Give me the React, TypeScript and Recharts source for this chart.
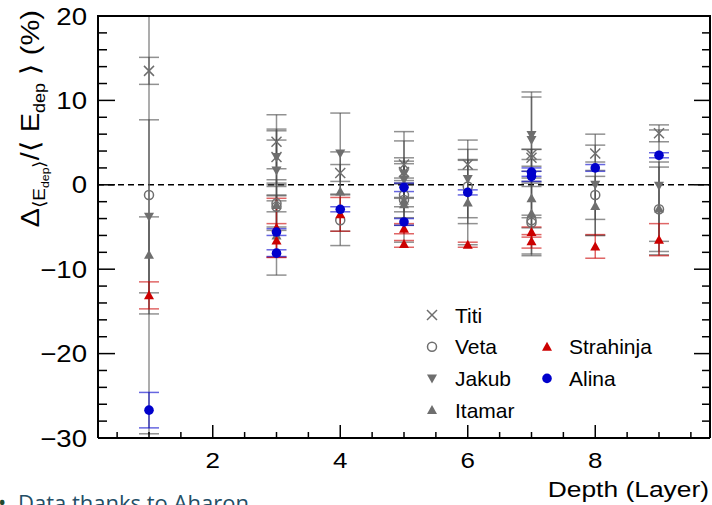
import React from 'react';
import { ScatterChart, Scatter, XAxis, YAxis, ErrorBar, ReferenceLine, Legend } from 'recharts';

// ---- data ----
const depth = [1, 3, 3, 4, 5, 5, 6, 7, 7, 8, 9];

const titi = [13.5, 5.1, 3.3, 1.4, 2.4, 1.5, 2.4, 3.6, 3.2, 3.7, 6.1];
const titiErr = [1.6, 3.2, 3.1, 1.0, 3.9, 1.0, 0.6, 0.6, 1.0, 1.0, 1.0];

const veta = [-1.2, -2.2, -2.6, -4.2, -1.2, -1.8, -0.2, -4.2, -4.5, -1.2, -2.9];
const vetaErr = [28.3, 1.0, 2.4, 3.0, 2.0, 5.0, 4.4, 4.0, 0.6, 2.9, 5.0];

const jakub = [-3.8, 3.3, 1.7, 3.7, 1.3, 0.6, 0.7, 5.9, 5.3, 0.0, -0.1];
const jakubErr = [11.5, 3.3, 3.6, 4.8, 3.9, 2.2, 4.6, 5.1, 5.1, 6.0, 6.6];

const itamar = [-8.3, -2.4, -6.0, -0.8, -1.9, -2.3, -2.1, -1.6, -3.4, -2.5, -2.8];
const itamarErr = [4.5, 3.0, 4.7, 4.7, 2.0, 2.5, 5.0, 2.0, 5.0, 3.5, 5.5];

const strahinja = [-13.1, -5.1, -6.6, -3.5, -5.2, -7.0, -7.1, -5.6, -6.7, -7.3, -6.5];
const strahinjaErr = [1.6, 3.5, 2.0, 2.0, 0.6, 0.4, 0.3, 0.6, 0.8, 1.4, 1.9];

const alina = [-26.7, -5.6, -8.1, -2.9, -0.3, -4.4, -0.9, 1.5, 1.0, 2.0, 3.5];
const alinaErr = [2.1, 0.4, 0.4, 0.3, 0.5, 0.4, 0.3, 0.5, 0.6, 0.4, 0.3];

const xTicks = [0.5, 1, 1.5, 2, 2.5, 3, 3.5, 4, 4.5, 5, 5.5, 6, 6.5, 7, 7.5, 8, 8.5, 9, 9.5];
const xMajor = [2, 4, 6, 8];
const xLabels = ['2', '4', '6', '8'];

const yTicks = [-30, -28, -26, -24, -22, -20, -18, -16, -14, -12, -10, -8, -6, -4, -2, 0, 2, 4, 6, 8, 10, 12, 14, 16, 18, 20];
const yMajor = [-30, -20, -10, 0, 10, 20];
const yLabels = ['\u221230', '\u221220', '\u221210', '0', '10', '20'];

const build = (vals: number[], errs: number[]) => depth.map((x, i) => ({ x, y: vals[i], err: errs[i] }));

const GREY = '#6e6e6e';
const GREY_LINE = '#484848';
const RED = '#cc0000';
const BLUE = '#0000cc';
const FONT = "'Liberation Sans', Arial, Helvetica, sans-serif";

// ---- marker shapes ----
const drawMarker = (kind: string, cx: number, cy: number, color: string) => {
  switch (kind) {
    case 'cross':
      return (
        <g>
          <line x1={cx - 5} y1={cy - 5} x2={cx + 5} y2={cy + 5} stroke={color} strokeWidth={1.5} />
          <line x1={cx - 5} y1={cy + 5} x2={cx + 5} y2={cy - 5} stroke={color} strokeWidth={1.5} />
        </g>
      );
    case 'open':
      return <circle cx={cx} cy={cy} r={4.5} fill="none" stroke={color} strokeWidth={1.5} />;
    case 'down':
      return <polygon points={`${cx - 5},${cy - 4} ${cx + 5},${cy - 4} ${cx},${cy + 5}`} fill={color} />;
    case 'up':
      return <polygon points={`${cx - 5},${cy + 4} ${cx + 5},${cy + 4} ${cx},${cy - 5}`} fill={color} />;
    default:
      return <circle cx={cx} cy={cy} r={4.8} fill={color} />;
  }
};

const series = [
  { name: 'Titi', data: build(titi, titiErr), kind: 'cross', color: GREY, line: GREY_LINE },
  { name: 'Veta', data: build(veta, vetaErr), kind: 'open', color: GREY, line: GREY_LINE },
  { name: 'Jakub', data: build(jakub, jakubErr), kind: 'down', color: GREY, line: GREY_LINE },
  { name: 'Itamar', data: build(itamar, itamarErr), kind: 'up', color: GREY, line: GREY_LINE },
  { name: 'Strahinja', data: build(strahinja, strahinjaErr), kind: 'up', color: RED, line: RED },
  { name: 'Alina', data: build(alina, alinaErr), kind: 'dot', color: BLUE, line: BLUE },
];

// ---- ticks ----
const XTick = (props: any) => {
  const { x, y, payload } = props;
  const v = payload.value;
  const idx = xMajor.indexOf(v);
  const major = idx >= 0;
  return (
    <g>
      <line x1={x} x2={x} y1={y} y2={y - (major ? 13 : 6)} stroke="#000" strokeWidth={1.5} />
      {major && (
        <text
          transform={`translate(${x}, ${y + 30}) scale(1.18, 1)`}
          textAnchor="middle"
          fontFamily={FONT}
          fontSize={22}
          fill="#000"
        >
          {xLabels[idx]}
        </text>
      )}
    </g>
  );
};

const YTickLeft = (props: any) => {
  const { x, y, payload } = props;
  const v = payload.value;
  const idx = yMajor.indexOf(v);
  const major = idx >= 0;
  return (
    <g>
      <line x1={x} x2={x + (major ? 17 : 9)} y1={y} y2={y} stroke="#000" strokeWidth={1.5} />
      {major && (
        <text
          transform={`translate(${x - 11}, ${y + 8.5}) scale(1.15, 1)`}
          textAnchor="end"
          fontFamily={FONT}
          fontSize={24}
          fill="#000"
        >
          {yLabels[idx]}
        </text>
      )}
    </g>
  );
};

const YTickRight = (props: any) => {
  const { x, y, payload } = props;
  const major = yMajor.indexOf(payload.value) >= 0;
  return <line x1={x} x2={x - (major ? 16 : 8)} y1={y} y2={y} stroke="#000" strokeWidth={1.5} />;
};

// ---- legend ----
const legendRows = [
  { name: 'Titi', kind: 'cross', color: GREY, col: 0, row: 0 },
  { name: 'Veta', kind: 'open', color: GREY, col: 0, row: 1 },
  { name: 'Jakub', kind: 'down', color: GREY, col: 0, row: 2 },
  { name: 'Itamar', kind: 'up', color: GREY, col: 0, row: 3 },
  { name: 'Strahinja', kind: 'up', color: RED, col: 1, row: 1 },
  { name: 'Alina', kind: 'dot', color: BLUE, col: 1, row: 2 },
];

const LegendContent = () => (
  <svg width={280} height={130} style={{ overflow: 'visible', display: 'block' }}>
    {legendRows.map((r) => {
      const mx = r.col === 0 ? 12 : 127;
      const tx = r.col === 0 ? 35 : 149;
      const cy = 17 + r.row * 31.7;
      return (
        <g key={r.name}>
          {drawMarker(r.kind, mx, cy, r.color)}
          <text x={tx} y={cy + 7.5} fontFamily={FONT} fontSize={21} fill="#000">
            {r.name}
          </text>
        </g>
      );
    })}
  </svg>
);

export default function App() {
  return (
    <div style={{ position: 'absolute', left: 0, top: 0, width: 712, height: 505, background: '#fff', overflow: 'hidden' }}>
      <ScatterChart width={712} height={505} margin={{ top: 16, right: 0, left: 8, bottom: 37 }}>
        <XAxis
          dataKey="x"
          type="number"
          domain={[0.2, 9.8]}
          ticks={xTicks}
          interval={0}
          tickSize={0}
          tickMargin={0}
          tickLine={false}
          tick={<XTick />}
          axisLine={{ stroke: '#000', strokeWidth: 2 }}
          height={30}
          allowDataOverflow
        />
        <YAxis
          dataKey="y"
          type="number"
          domain={[-30, 20]}
          ticks={yTicks}
          interval={0}
          tickSize={0}
          tickMargin={0}
          tickLine={false}
          tick={<YTickLeft />}
          axisLine={{ stroke: '#000', strokeWidth: 2 }}
          width={90}
          allowDataOverflow
        />
        <YAxis
          yAxisId="r"
          orientation="right"
          type="number"
          domain={[-30, 20]}
          ticks={yTicks}
          interval={0}
          tickSize={0}
          tickMargin={0}
          tickLine={false}
          tick={<YTickRight />}
          axisLine={{ stroke: '#000', strokeWidth: 2 }}
          width={2}
          allowDataOverflow
        />
        <ReferenceLine y={0} stroke="#000" strokeWidth={1.5} strokeDasharray="6 4" />
        {series.map((s) => (
          <Scatter
            key={s.name}
            name={s.name}
            data={s.data}
            isAnimationActive={false}
            shape={(p: any) => drawMarker(s.kind, p.cx, p.cy, s.color)}
          >
            <ErrorBar
              dataKey="err"
              direction="y"
              width={10}
              stroke={s.line}
              strokeWidth={1.5}
              strokeOpacity={0.6}
              isAnimationActive={false}
            />
          </Scatter>
        ))}
        <Legend
          content={LegendContent}
          layout="horizontal"
          verticalAlign="middle"
          align="center"
          wrapperStyle={{ position: 'absolute', left: 420, top: 298, width: 280, height: 130 }}
        />
      </ScatterChart>
      <svg
        width={712}
        height={505}
        style={{ position: 'absolute', left: 0, top: 0, pointerEvents: 'none' }}
      >
        {/* mask overflow above the frame, then the frame's top edge */}
        <rect x={92} y={0} width={620} height={15} fill="#fff" />
        <line x1={97} x2={711} y1={16} y2={16} stroke="#000" strokeWidth={2} />
        <text transform="translate(39, 10) rotate(-90) scale(1.12, 1)" textAnchor="end" fontFamily={FONT} fontSize={26} fill="#000">
          {'\u0394'}
          <tspan fontSize={17} dy={6}>{'\u27E8E'}</tspan>
          <tspan fontSize={11} dy={4}>dep</tspan>
          <tspan fontSize={17} dy={-4}>{'\u27E9'}</tspan>
          <tspan fontSize={26} dy={-6}>{'/\u27E8 E'}</tspan>
          <tspan fontSize={16} dy={6}>dep</tspan>
          <tspan fontSize={26} dy={-6}>{' \u27E9 (%)'}</tspan>
        </text>
        <text transform="translate(709, 497) scale(1.2, 1)" textAnchor="end" fontFamily={FONT} fontSize={22} fill="#000">
          Depth (Layer)
        </text>
        <text x={-2} y={510} fontFamily="'Open Sans', sans-serif" fontSize={22} fill="#1f4a2e">
          {'\u2022'}
        </text>
        <text x={18} y={511} fontFamily="'Open Sans', sans-serif" fontSize={22} fill="#234e66">
          Data thanks to Aharon
        </text>
      </svg>
    </div>
  );
}
